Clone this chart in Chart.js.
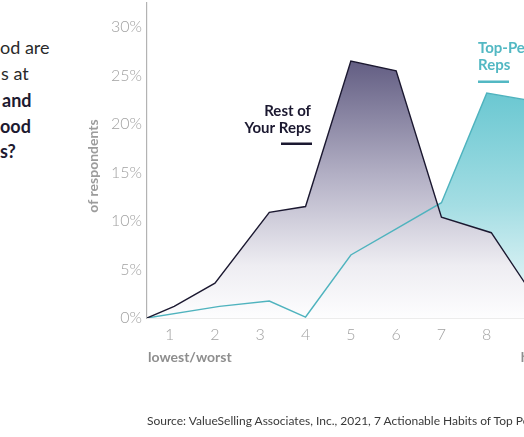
<!DOCTYPE html>
<html lang="en">
<head>
    <meta charset="UTF-8">
    <title>Rest of Your Reps vs Top-Performing Reps</title>
    <script src="https://cdn.jsdelivr.net/npm/chart.js"></script>
    <style>
        html, body { margin: 0; padding: 0; background: #fff; overflow: hidden; }
        body { width: 524px; height: 437px; position: relative; font-family: Lato, sans-serif; }
        .wrap { position: absolute; left: 0; top: 0; width: 640px; height: 437px; }
        .intro { position: absolute; font-size: 18px; line-height: 18px; color: #2a2a2a; white-space: nowrap; }
        .intro.b { font-weight: 700; color: #1d1a30; }
        .source { position: absolute; left: 147px; top: 413px; font-size: 12px; color: #3a3a3a; white-space: nowrap; }
    </style>
</head>
<body>
    <!-- intro text, only the part the reference shows -->
    <div class="intro" style="left:0px; top:38px;">od are</div>
    <div class="intro" style="left:1px; top:64px;">s at</div>
    <div class="intro b" style="left:2px; top:91px;">and</div>
    <div class="intro b" style="left:0px; top:117px;">ood</div>
    <div class="intro b" style="left:0px; top:142px;">s?</div>

    <div class="wrap"><canvas id="repsChart" width="640" height="437"></canvas></div>

    <div class="source">Source: ValueSelling Associates, Inc., 2021, 7 Actionable Habits of Top Pe</div>

    <script>
        // rating scale (x) and tick labels
        const ratingTicks = [1, 2, 3, 4, 5, 6, 7, 8, 9, 10];
        const ratingLabels = ['1', '2', '3', '4', '5', '6', '7', '8', '9', '10'];
        const pctTicks = [0, 5, 10, 15, 20, 25, 30];

        // rest of your reps (% of respondents)
        const restX = [0.5, 1.1, 2, 3.2, 4, 5, 6, 7, 8.1, 9, 10];
        const restY = [0, 1.2, 3.6, 10.9, 11.5, 26.5, 25.5, 10.4, 8.8, 2.5, 1];

        // top-performing reps (% of respondents)
        const topX = [0.5, 2.1, 3.2, 4, 5, 6, 7, 8, 9, 10];
        const topY = [0, 1.2, 1.75, 0.1, 6.5, 9.2, 11.9, 23.2, 22.4, 10];

        const toPoints = (xs, ys) => xs.map((x, i) => ({ x: x, y: ys[i] }));

        function areaGradient(context, stops, topValue) {
            const chart = context.chart;
            const area = chart.chartArea;
            if (!area) return null;
            const y = chart.scales.y;
            const g = chart.ctx.createLinearGradient(0, y.getPixelForValue(topValue), 0, y.getPixelForValue(0));
            stops.forEach(s => g.addColorStop(s[0], s[1]));
            return g;
        }

        // text labels drawn on the chart
        const chartText = {
            id: 'chartText',
            afterDraw(chart) {
                const c = chart.ctx;
                const x = chart.scales.x;
                c.save();

                // y axis title
                c.translate(93, 166);
                c.rotate(-Math.PI / 2);
                c.font = '700 14px Lato';
                c.fillStyle = '#9c9c9c';
                c.textAlign = 'center';
                c.textBaseline = 'middle';
                c.fillText('of respondents', 0, 0);
                c.setTransform(1, 0, 0, 1, 0, 0);

                // ends of the scale
                c.font = '700 14px Lato';
                c.fillStyle = '#8e8e8e';
                c.textAlign = 'left';
                c.textBaseline = 'middle';
                c.fillText('lowest/worst', x.left + 1, 357);
                c.fillText('highest/best', x.getPixelForValue(8.75), 357);

                // series callouts
                c.font = '700 15px Lato';
                c.fillStyle = '#1b1830';
                c.textAlign = 'right';
                c.fillText('Rest of', 311, 111);
                c.fillText('Your Reps', 311, 128);
                c.fillRect(281, 142.5, 31, 2.5);

                c.fillStyle = '#52b8c3';
                c.textAlign = 'left';
                c.fillText('Top-Performing', 478, 48);
                c.fillText('Reps', 478, 65);
                c.fillRect(478, 80.5, 31, 2.5);

                c.restore();
            }
        };

        new Chart(document.getElementById('repsChart'), {
            type: 'line',
            data: {
                datasets: [
                    {
                        label: 'Rest of Your Reps',
                        data: toPoints(restX, restY),
                        borderColor: '#1b1830',
                        borderWidth: 1.4,
                        pointRadius: 0,
                        tension: 0,
                        fill: 'origin',
                        backgroundColor: ctx => areaGradient(ctx, [
                            [0, '#5f5a80'], [0.45, '#b2afc4'], [0.8, '#eeedf2'], [1, '#fdfdfe']
                        ], 27)
                    },
                    {
                        label: 'Top-Performing Reps',
                        data: toPoints(topX, topY),
                        borderColor: '#4fb3be',
                        borderWidth: 1.4,
                        pointRadius: 0,
                        tension: 0,
                        fill: 'origin',
                        backgroundColor: ctx => areaGradient(ctx, [
                            [0, '#69c7d1'], [0.5, '#a3dde3'], [1, '#f6fcfd']
                        ], 23.5)
                    }
                ]
            },
            options: {
                responsive: false,
                animation: false,
                layout: { padding: { left: 0, top: 3, right: 40, bottom: 0 } },
                plugins: {
                    legend: { display: false },
                    tooltip: { enabled: false },
                    filler: { drawTime: 'beforeDatasetsDraw' }
                },
                scales: {
                    x: {
                        type: 'linear',
                        min: 0.5,
                        max: 10.5,
                        afterFit: s => { s.height = 119; s.paddingLeft = 0; s.paddingRight = 0; },
                        afterBuildTicks: s => { s.ticks = ratingTicks.map(v => ({ value: v })); },
                        grid: { display: false, drawTicks: false },
                        border: { display: true, color: '#b3b3b3', width: 1.2 },
                        ticks: {
                            padding: 7,
                            maxRotation: 0,
                            color: '#a2a2a2',
                            font: { family: 'Lato', size: 16, weight: 300 },
                            callback: v => ratingLabels[ratingTicks.indexOf(v)]
                        }
                    },
                    y: {
                        min: 0,
                        max: 32.5,
                        afterFit: s => { s.width = 147; s.paddingTop = 0; s.paddingBottom = 0; },
                        afterBuildTicks: s => { s.ticks = pctTicks.map(v => ({ value: v })); },
                        grid: { display: false, drawTicks: false },
                        border: { display: true, color: '#b3b3b3', width: 1.2 },
                        ticks: {
                            padding: 5,
                            color: '#a2a2a2',
                            font: { family: 'Lato', size: 16, weight: 300 },
                            callback: v => v + '%'
                        }
                    }
                }
            },
            plugins: [chartText]
        });
    </script>
</body>
</html>
